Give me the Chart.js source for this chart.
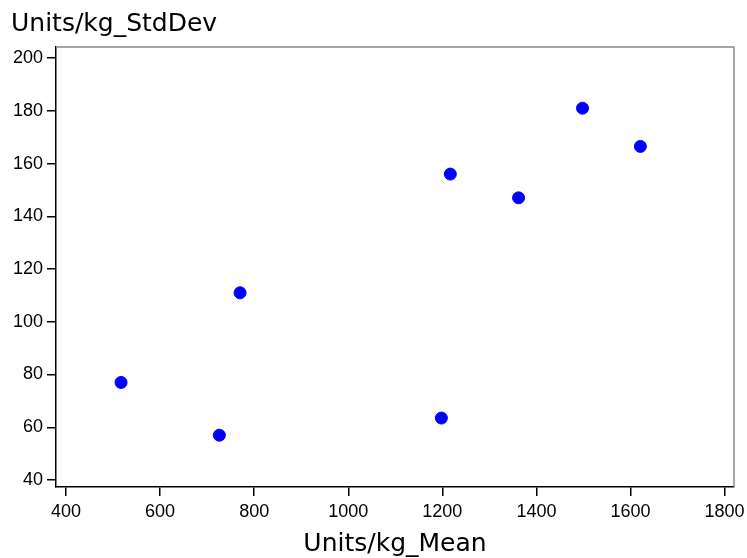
<!DOCTYPE html>
<html>
<head>
<meta charset="utf-8">
<script src="https://cdn.jsdelivr.net/npm/chart.js@4/dist/chart.umd.min.js"></script>
<style>
    html, body { margin: 0; padding: 0; background: #ffffff; }
    #wrap { width: 747px; height: 558px; position: relative; }
</style>
</head>
<body>
<div id="wrap"><canvas id="chart"></canvas></div>
<script>
// values
const meanValues = [517, 726, 770, 1198, 1217, 1362, 1498, 1621];
const stdDevValues = [77, 57, 111, 63.5, 156, 147, 181, 166.5];
const xTitle = 'Units/kg_Mean';
const yTitle = 'Units/kg_StdDev';

const points = meanValues.map((m, i) => ({ x: m, y: stdDevValues[i] }));

// grey frame on the top and right of the plot area
const framePlugin = {
    id: 'frame',
    beforeDatasetsDraw(chart) {
        const { ctx, chartArea: a } = chart;
        ctx.save();
        ctx.strokeStyle = '#8a8a8a';
        ctx.lineWidth = 1.5;
        ctx.beginPath();
        ctx.moveTo(a.left, a.top);
        ctx.lineTo(a.right, a.top);
        ctx.lineTo(a.right, a.bottom);
        ctx.stroke();
        ctx.restore();
    }
};

const tickFont = { family: '"Liberation Sans", Arial, sans-serif', size: 18 };
const titleFont = { family: '"DejaVu Sans", sans-serif', size: 25, weight: 'normal', lineHeight: 1.2 };

new Chart(document.getElementById('chart'), {
    type: 'scatter',
    data: {
        datasets: [{
            data: points,
            backgroundColor: '#0000ff',
            borderColor: '#0000ff',
            pointRadius: 6,
            pointHoverRadius: 6
        }]
    },
    options: {
        responsive: true,
        maintainAspectRatio: false,
        animation: false,
        layout: { padding: { left: 11, right: 13, top: 0, bottom: 0 } },
        plugins: {
            legend: { display: false },
            tooltip: { enabled: false },
            title: {
                display: true,
                text: yTitle,
                align: 'start',
                color: '#000000',
                font: titleFont,
                padding: { top: 9, bottom: 8 }
            }
        },
        scales: {
            x: {
                type: 'linear',
                min: 378.7,
                max: 1820,
                afterFit: s => { s.height = 71; s.paddingLeft = 0; s.paddingRight = 0; },
                border: { display: true, color: '#000000', width: 1.5 },
                grid: { display: true, drawOnChartArea: false, drawTicks: true, tickLength: 9, color: '#000000', lineWidth: 1.5 },
                ticks: { stepSize: 200, includeBounds: false, color: '#000000', font: tickFont, padding: 5, maxRotation: 0,
                         callback: v => String(v) },
                title: { display: true, text: xTitle, color: '#000000',
                         font: { family: '"DejaVu Sans", sans-serif', size: 25, lineHeight: 0.84 },
                         padding: { top: 0, bottom: 3 } }
            },
            y: {
                type: 'linear',
                min: 37.35,
                max: 204.2,
                afterFit: s => { s.width = 45; },
                border: { display: true, color: '#000000', width: 1.5 },
                grid: { display: true, drawOnChartArea: false, drawTicks: true, tickLength: 9, color: '#000000', lineWidth: 1.5 },
                ticks: { stepSize: 20, includeBounds: false, color: '#000000', font: tickFont, padding: 4,
                         callback: v => String(v) }
            }
        }
    },
    plugins: [framePlugin]
});
</script>
</body>
</html>
